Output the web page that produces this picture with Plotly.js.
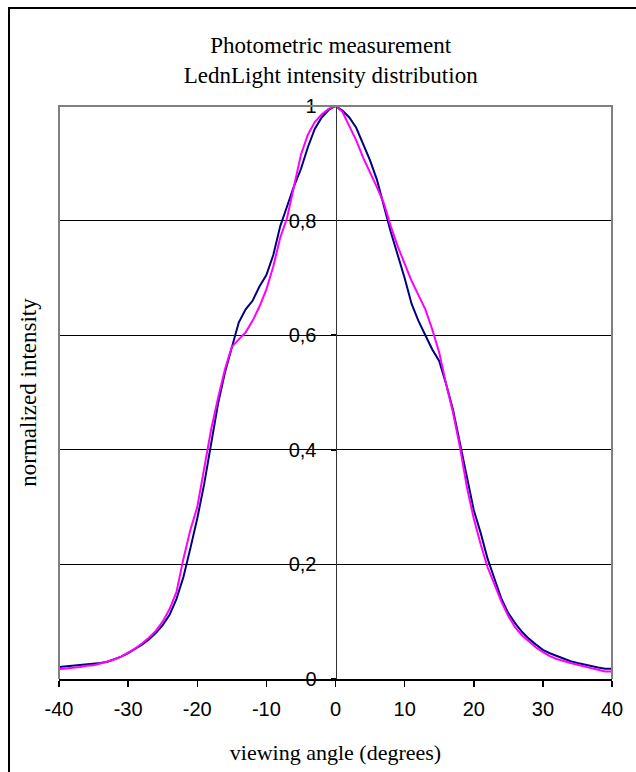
<!DOCTYPE html>
<html>
<head>
<meta charset="utf-8">
<script src="https://cdn.plot.ly/plotly-3.0.1.min.js"></script>
<style>html,body{margin:0;padding:0;background:#fff;}#chart{width:636px;height:772px;}</style>
</head>
<body>
<div id="chart"></div>
<script>
var angles = [-40,-39,-38,-37,-36,-35,-34,-33,-32,-31,-30,-29,-28,-27,-26,-25,-24,-23,-22,-21,-20,-19,-18,-17,-16,-15,-14,-13,-12,-11,-10,-9,-8,-7,-6,-5,-4,-3,-2,-1,0,1,2,3,4,5,6,7,8,9,10,11,12,13,14,15,16,17,18,19,20,21,22,23,24,25,26,27,28,29,30,31,32,33,34,35,36,37,38,39,40];

var seriesNavy = [0.021,0.022,0.023,0.024,0.025,0.026,0.028,0.030,0.034,0.039,0.045,0.052,0.060,0.069,0.080,0.094,0.112,0.140,0.178,0.228,0.280,0.340,0.410,0.480,0.535,0.580,0.622,0.645,0.660,0.685,0.705,0.740,0.790,0.825,0.860,0.890,0.928,0.960,0.980,0.993,1.000,0.992,0.980,0.962,0.935,0.905,0.871,0.825,0.780,0.740,0.700,0.655,0.625,0.600,0.575,0.555,0.515,0.470,0.410,0.350,0.295,0.255,0.210,0.175,0.140,0.115,0.097,0.082,0.070,0.060,0.051,0.045,0.040,0.035,0.031,0.028,0.025,0.023,0.020,0.018,0.018];

var seriesMagenta = [0.017,0.018,0.020,0.021,0.023,0.024,0.027,0.030,0.034,0.039,0.046,0.053,0.062,0.072,0.084,0.100,0.122,0.152,0.210,0.260,0.300,0.370,0.435,0.490,0.540,0.580,0.592,0.605,0.625,0.650,0.680,0.720,0.770,0.805,0.860,0.915,0.950,0.972,0.985,0.995,1.000,0.990,0.965,0.940,0.910,0.885,0.858,0.830,0.790,0.755,0.725,0.695,0.670,0.645,0.610,0.570,0.515,0.465,0.405,0.335,0.280,0.235,0.195,0.165,0.135,0.110,0.090,0.076,0.065,0.055,0.047,0.040,0.035,0.031,0.028,0.025,0.022,0.019,0.016,0.013,0.013];

var yTicks = [0,0.2,0.4,0.6,0.8,1];
var xTicks = [-40,-30,-20,-10,0,10,20,30,40];
var xTickLabels = ['-40','-30','-20','-10','0','10','20','30','40'];

var titleText = 'Photometric measurement<br>LednLight intensity distribution';
var xTitle = 'viewing angle (degrees)';
var yTitle = 'normalized intensity';

var traces = [
  {x: angles, y: seriesNavy, type: 'scatter', mode: 'lines', line: {color: '#000080', width: 2}, showlegend: false, hoverinfo: 'skip'},
  {x: angles, y: seriesMagenta, type: 'scatter', mode: 'lines', line: {color: '#FF00FF', width: 2}, showlegend: false, hoverinfo: 'skip'}
];

var serif = 'Liberation Serif, Times New Roman, serif';
var sans = 'Liberation Sans, Arial, sans-serif';

var layout = {
  width: 636, height: 772,
  margin: {l: 59, r: 24, t: 106, b: 93, pad: 0},
  paper_bgcolor: '#ffffff', plot_bgcolor: '#ffffff',
  separators: ', ',
  showlegend: false,
  title: {
    text: titleText,
    font: {family: serif, size: 23, color: '#000'},
    x: 0.52, xref: 'container', xanchor: 'center',
    y: 1 - 53/772, yref: 'container', yanchor: 'top'
  },
  xaxis: {
    range: [-40, 40], tickvals: xTicks, ticktext: xTickLabels,
    showgrid: false, zeroline: false,
    showline: true, linecolor: '#000', linewidth: 1.5,
    ticks: 'outside', ticklen: 6, tickwidth: 1.5, tickcolor: '#000',
    ticklabelstandoff: 5,
    tickfont: {family: sans, size: 20, color: '#000'},
    title: {text: xTitle, font: {family: serif, size: 22, color: '#000'}, standoff: 26}
  },
  yaxis: {
    range: [0, 1], tickvals: yTicks,
    showgrid: true, gridcolor: '#000', gridwidth: 1,
    zeroline: false, showline: false, showticklabels: false, ticks: '',
    title: {text: yTitle, font: {family: serif, size: 23, color: '#000'}, standoff: 14}
  },
  yaxis2: {
    overlaying: 'y', anchor: 'free', position: 0.5, side: 'left',
    range: [0, 1], tickvals: yTicks,
    showgrid: false, zeroline: false,
    showline: true, linecolor: '#333', linewidth: 1.5,
    ticks: 'outside', ticklen: 5, tickwidth: 1.5, tickcolor: '#000',
    ticklabelstandoff: 10,
    tickfont: {family: sans, size: 20, color: '#000'}
  },
  shapes: [
    {type: 'path', xref: 'paper', yref: 'paper', path: 'M0,0 L0,1 L1,1 L1,0', line: {color: '#808080', width: 2}, layer: 'above'},
    {type: 'rect', xref: 'paper', yref: 'paper', x0: -0.0904, x1: 1.3, y0: -0.4, y1: 1.171, line: {color: '#000', width: 2}, fillcolor: 'rgba(0,0,0,0)', layer: 'above'}
  ]
};

Plotly.newPlot('chart', traces.concat([{x: [], y: [], yaxis: 'y2', type: 'scatter', showlegend: false, hoverinfo: 'skip'}]), layout, {staticPlot: true, displayModeBar: false});
</script>
</body>
</html>
